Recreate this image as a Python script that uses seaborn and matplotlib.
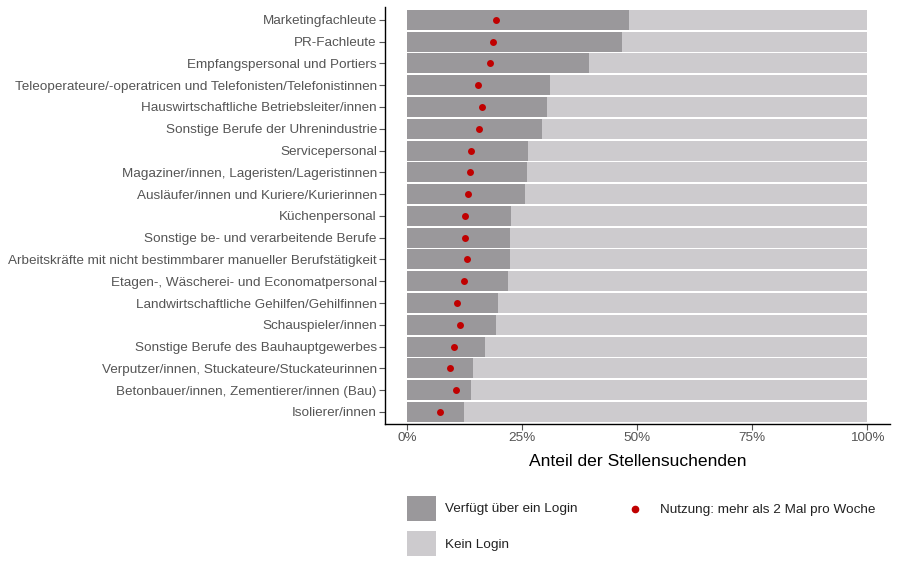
import matplotlib
matplotlib.use('Agg')
import matplotlib.pyplot as plt
import seaborn as sns
import pandas as pd
from matplotlib.patches import Patch
from matplotlib.lines import Line2D
from matplotlib.ticker import PercentFormatter

# Occupations, top to bottom
berufe = [
    'Marketingfachleute',
    'PR-Fachleute',
    'Empfangspersonal und Portiers',
    'Teleoperateure/-operatricen und Telefonisten/Telefonistinnen',
    'Hauswirtschaftliche Betriebsleiter/innen',
    'Sonstige Berufe der Uhrenindustrie',
    'Servicepersonal',
    'Magaziner/innen, Lageristen/Lageristinnen',
    'Ausläufer/innen und Kuriere/Kurierinnen',
    'Küchenpersonal',
    'Sonstige be- und verarbeitende Berufe',
    'Arbeitskräfte mit nicht bestimmbarer manueller Berufstätigkeit',
    'Etagen-, Wäscherei- und Economatpersonal',
    'Landwirtschaftliche Gehilfen/Gehilfinnen',
    'Schauspieler/innen',
    'Sonstige Berufe des Bauhauptgewerbes',
    'Verputzer/innen, Stuckateure/Stuckateurinnen',
    'Betonbauer/innen, Zementierer/innen (Bau)',
    'Isolierer/innen',
]

# share with a login
login = [0.482, 0.468, 0.396, 0.311, 0.303, 0.294, 0.262, 0.260, 0.255, 0.226,
         0.224, 0.223, 0.220, 0.197, 0.192, 0.169, 0.142, 0.139, 0.123]

# share using it more than twice a week
nutzung = [0.192, 0.186, 0.180, 0.154, 0.163, 0.155, 0.138, 0.137, 0.132, 0.125,
           0.125, 0.129, 0.124, 0.108, 0.115, 0.102, 0.094, 0.105, 0.071]

df = pd.DataFrame({'Beruf': berufe, 'Login': login, 'Nutzung': nutzung, 'Total': 1.0})

dark = '#9a989b'
light = '#cdcbce'
red = '#c00000'
text_grey = '#555555'

sns.set_style('white')
plt.rcParams['font.family'] = ['Liberation Sans', 'DejaVu Sans']

fig = plt.figure(figsize=(9, 5.66), dpi=100)
ax = fig.add_axes([0.428, 0.251, 0.561, 0.737])

sns.barplot(data=df, x='Total', y='Beruf', orient='h', color=light, saturation=1,
            width=0.92, linewidth=0, ax=ax)
sns.barplot(data=df, x='Login', y='Beruf', orient='h', color=dark, saturation=1,
            width=0.92, linewidth=0, ax=ax)
sns.stripplot(data=df, x='Nutzung', y='Beruf', orient='h', color=red, jitter=False,
              size=5, linewidth=0, ax=ax, zorder=5)

ax.set_xlim(-0.048, 1.05)
ax.set_ylim(18.55, -0.6)
ax.set_xticks([0, 0.25, 0.5, 0.75, 1.0])
ax.xaxis.set_major_formatter(PercentFormatter(1.0, decimals=0))
ax.set_xlabel('Anteil der Stellensuchenden', fontsize=12.6, color='black', labelpad=7)
ax.set_ylabel('')

for side in ['top', 'right']:
    ax.spines[side].set_visible(False)
for side in ['left', 'bottom']:
    ax.spines[side].set_color('black')
    ax.spines[side].set_linewidth(1.0)

ax.tick_params(axis='both', which='major', length=4, width=0.8, color=text_grey,
               labelcolor=text_grey, labelsize=9.7, left=True, bottom=True, pad=2)

# legend
handles1 = [Patch(facecolor=dark, edgecolor='none', label='Verfügt über ein Login'),
            Patch(facecolor=light, edgecolor='none', label='Kein Login')]
fig.legend(handles=handles1, loc='upper left', bbox_to_anchor=(0.445, 0.136),
           frameon=False, fontsize=9.7, handlelength=2.1, handleheight=2.5,
           labelspacing=0.75, handletextpad=0.7, borderpad=0, labelcolor='#222222')
handles2 = [Line2D([], [], marker='o', linestyle='none', color=red, markersize=4.5,
                   label='Nutzung: mehr als 2 Mal pro Woche')]
fig.legend(handles=handles2, loc='upper left', bbox_to_anchor=(0.688, 0.1215),
           frameon=False, fontsize=9.7, handlelength=1.3, handleheight=0.7,
           handletextpad=1.2, borderpad=0, labelcolor='#222222')

fig.savefig('out.png', dpi=100)
